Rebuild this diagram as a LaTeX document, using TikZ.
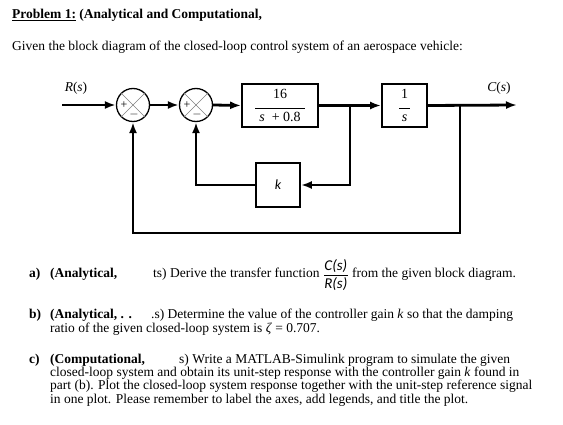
\documentclass[tikz,border=0pt]{standalone}
\usepackage{fontspec}
\setmainfont{Liberation Serif}
\newfontfamily\calib{Carlito}
\usetikzlibrary{arrows.meta}

\begin{document}
\begin{tikzpicture}[x=1pt, y=-1pt, font=\fontsize{13.5}{14}\selectfont,
  block/.style={draw, line width=1.8pt, inner sep=0pt},
  sumnode/.style={draw, circle, line width=1.3pt, minimum size=33pt, inner sep=0pt},
  wire/.style={line width=2.8pt},
  sig/.style={wire, -{Latex[length=11pt, width=8pt]}},
  txt/.style={anchor=base west, inner sep=0pt},
  fracpart/.style={anchor=base, inner sep=0pt, font=\calib\itshape\fontsize{15}{15}\selectfont}]
  \useasboundingbox (0,0) rectangle (563,425);

  %%% header %%%
  \node[txt] (title) at (12,19) {\textbf{\underline{Problem 1:} (Analytical and Computational,}};
  \node[txt] (given) at (12,51) {Given the block diagram of the closed-loop control system of an aerospace vehicle:};

  %%% block diagram %%%
  % summing junctions
  \node[sumnode] (sum1) at (133,105) {};
  \node[sumnode] (sum2) at (196,105) {};
  \foreach \s in {sum1,sum2} {
    \draw[gray, line width=0.6pt] (\s.north west) -- (\s.south east);
    \draw[gray, line width=0.6pt] (\s.north east) -- (\s.south west);
    \node[font=\fontsize{12}{12}\selectfont, inner sep=0pt] (\s p) at ([xshift=-9pt]\s.center) {+};
    \node[font=\fontsize{12}{12}\selectfont, inner sep=0pt] (\s m) at ([xshift=1pt, yshift=-9.5pt]\s.center) {$-$};
  }
  % blocks
  \node[block, minimum width=76pt, minimum height=43pt, align=center, font=\fontsize{14}{14}\selectfont] (G1) at (280,105.5)
    {16\\[-4pt]\rule{50pt}{0.6pt}\\[-1pt]\textit{s}\ \ + 0.8};
  \node[block, minimum width=45pt, minimum height=43pt, align=center, font=\fontsize{14}{14}\selectfont] (G2) at (404.5,105.5)
    {1\\[-4pt]\rule{11pt}{0.6pt}\\[-1pt]\textit{s}};
  \node[block, minimum width=44pt, minimum height=44pt, font=\calib\itshape\fontsize{14}{14}\selectfont] (K) at (278,185) {k};
  % signals
  \node[inner sep=0pt, font=\fontsize{13.5}{13.5}\selectfont] (R) at (76,88) {\textit{R}(\textit{s})};
  \node[inner sep=0pt, font=\fontsize{13.5}{13.5}\selectfont] (C) at (499,88) {\textit{C}(\textit{s})};
  \coordinate (in) at (62,105);
  \coordinate (out) at (517,105);
  \coordinate (b1) at (350,105);
  \coordinate (b2) at (460,105);
  \coordinate (c1) at (460,233);
  % forward path
  \draw[sig] (in) -- (sum1.west);
  \draw[sig] (sum1.east) -- (sum2.west);
  \draw[sig] (sum2.east) -- (G1.west);
  \draw[sig] (G1.east) -- (G2.west);
  \draw[sig] (G2.east) -- (out);
  % inner loop
  \draw[sig] (b1) -- (b1 |- K.east) -- (K.east);
  \draw[sig] (K.west) -| (sum2.south);
  % outer loop
  \draw[sig] (b2) -- (c1) -| (sum1.south);

  %%% questions %%%
  % part a
  \node[txt] (qa) at (29,277) {\textbf{a)}};
  \node[txt] (qa1) at (50,277) {\textbf{(Analytical,}};
  \node[txt] (qa2) at (153,277) {ts) Derive the transfer function};
  \node[fracpart] (fnum) at ([xshift=16pt]qa2.base east |- 0,271) {C(s)};
  \node[fracpart] (fden) at ([xshift=16pt]qa2.base east |- 0,289) {R(s)};
  \draw[line width=0.6pt] (fden.west |- 0,275.5) -- (fden.east |- 0,275.5);
  \node[txt] (qa3) at ([xshift=32pt]qa2.base east) {from the given block diagram.};
  % part b
  \node[txt] (qb) at (29,318) {\textbf{b)}};
  \node[txt] (qb1) at (50,318) {\textbf{(Analytical, . .}};
  \node[txt] (qb2) at (151,318) {.s) Determine the value of the controller gain \textit{k} so that the damping};
  \node[txt] (qb3) at (50,332) {ratio of the given closed-loop system is \textit{ζ} = 0.707.};
  % part c
  \node[txt] (qc) at (29,363) {\textbf{c)}};
  \node[txt] (qc1) at (50,363) {\textbf{(Computational,}};
  \node[txt] (qc2) at (179,363) {s) Write a MATLAB-Simulink program to simulate the given};
  \node[txt] (qc3) at (50,376) {closed-loop system and obtain its unit-step response with the controller gain \textit{k} found in};
  \node[txt] (qc4) at (50,389.5) {part (b). Plot the closed-loop system response together with the unit-step reference signal};
  \node[txt] (qc5) at (50,403) {in one plot. Please remember to label the axes, add legends, and title the plot.};
\end{tikzpicture}
\end{document}
